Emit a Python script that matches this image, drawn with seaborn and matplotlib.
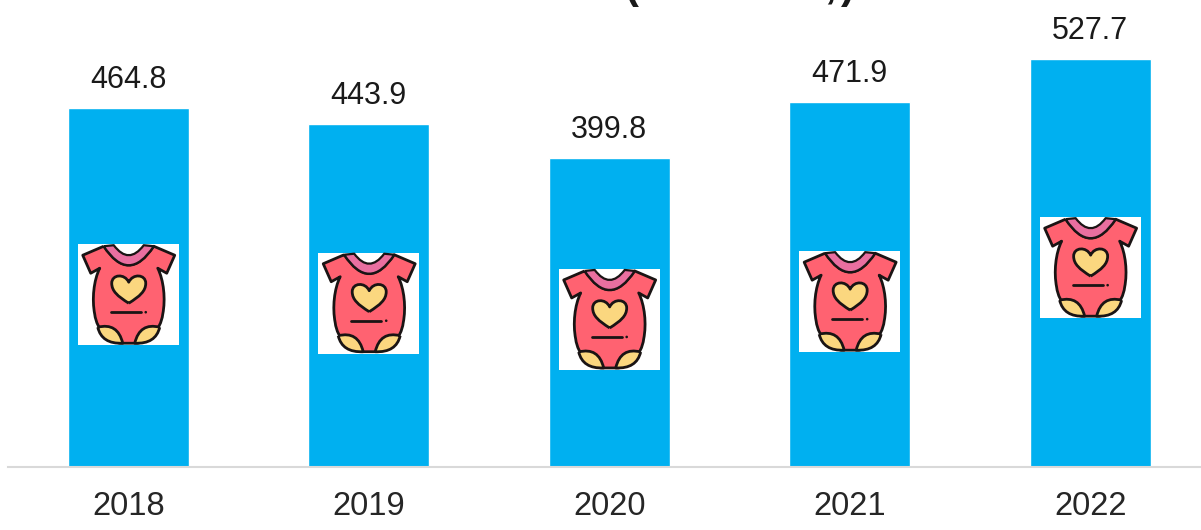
# Balkendiagramm mit Strampler-Icons
import matplotlib
matplotlib.use("Agg")
import matplotlib.pyplot as plt
import pandas as pd
import seaborn as sns
from matplotlib.patches import Circle, PathPatch, Rectangle
from matplotlib.path import Path
from matplotlib.transforms import Affine2D

years = ["2018", "2019", "2020", "2021", "2022"]
values = [464.8, 443.9, 399.8, 471.9, 527.7]
# Mitte der Icons auf der y-Achse
icon_y = [223, 212, 191, 214, 258]

bar_color = "#00B0F0"
body_color = "#FF6271"
collar_color = "#E96FA0"
yellow = "#FBD77F"
outline = "#1A1414"

sns.set_theme(style="white")
plt.rcParams["font.family"] = ["Liberation Sans", "DejaVu Sans"]

df = pd.DataFrame({"Jahr": years, "Wert": values})

fig = plt.figure(figsize=(12.01, 5.30), dpi=100)
ax = fig.add_axes([8 / 1201, (530 - 467) / 530, 1193 / 1201, 467 / 530])
sns.barplot(data=df, x="Jahr", y="Wert", color=bar_color, saturation=1, width=0.503, ax=ax)
ax.set_xlim(-0.5, 4.461)
ax.set_ylim(0, 604.5)
ax.set_xlabel("")
ax.set_ylabel("")
ax.set_yticks([])
ax.tick_params(axis="x", length=0, labelsize=23.5, labelcolor="#262626", pad=17.5)
sns.despine(ax=ax, left=True)
ax.spines["bottom"].set_color("#D9D9D9")
ax.spines["bottom"].set_linewidth(1.5)

for i, v in enumerate(values):
    ax.annotate(f"{v:.1f}", (i, v), xytext=(0, 9.5), textcoords="offset points",
                ha="center", va="bottom", fontsize=22, color="#1A1A1A")


# Icon in einem 101x101-Kasten, y zeigt nach unten
def draw_icon(cx, cy):
    tr = Affine2D().translate(-50.5, -50.5).scale(1, -1).translate(cx, cy)
    lw = 2.0

    def add(p):
        p.set_transform(tr)
        p.set_clip_on(False)
        p.set_zorder(5)
        ax.add_artist(p)

    add(Rectangle((0, 0), 101, 101, fc="white", ec="none"))

    C3, C4, L, M = Path.CURVE3, Path.CURVE4, Path.LINETO, Path.MOVETO
    body = Path(
        [(26, 2), (51, 40), (76, 2), (97, 11), (89, 29), (80, 24),
         (86, 36), (88, 55), (85, 70), (83, 86), (70, 99), (58, 99),
         (44, 99), (32, 99), (19, 86), (17, 70), (14, 55), (16, 36), (22, 24),
         (13, 29), (5, 11), (26, 2)],
        [M, C3, C3, L, L, L, C4, C4, C4, C4, C4, C4, L, C4, C4, C4, C4, C4, C4, L, L, L],
    )
    add(PathPatch(body, fc=body_color, ec=outline, lw=lw, joinstyle="round"))

    collar = Path(
        [(26, 2), (51, 40), (76, 2), (66, 1), (51, 21), (36, 1), (26, 2)],
        [M, C3, C3, L, C3, C3, L],
    )
    add(PathPatch(collar, fc=collar_color, ec=outline, lw=lw * 0.8, joinstyle="round"))

    leg_l = Path([(20, 83), (40, 78), (45, 99), (24, 100), (20, 83)], [M, C3, C3, C3, C3])
    leg_r = Path([(82, 83), (62, 78), (57, 99), (78, 100), (82, 83)], [M, C3, C3, C3, C3])
    add(PathPatch(leg_l, fc=yellow, ec=outline, lw=lw, joinstyle="round"))
    add(PathPatch(leg_r, fc=yellow, ec=outline, lw=lw, joinstyle="round"))

    heart = Path(
        [(51, 59), (40, 52), (34, 47), (34, 39), (34, 30), (47, 29), (51, 38),
         (55, 29), (68, 30), (68, 39), (68, 47), (62, 52), (51, 59)],
        [M] + [C4] * 12,
    )
    add(PathPatch(heart, fc=yellow, ec=outline, lw=lw, joinstyle="round"))

    add(PathPatch(Path([(33, 68), (63, 68)]), fc="none", ec=outline, lw=lw, capstyle="round"))
    add(Circle((68, 68), 1.3, fc=outline, ec="none"))


fig.canvas.draw()
for i, y in enumerate(icon_y):
    px, py = ax.transData.transform((i, y))
    draw_icon(px, py)

# Titel ist im Original oben abgeschnitten, nur Klammern und Komma sichtbar
for txt, xp in [("(", 625), (",", 824), (")", 841)]:
    fig.text(xp / 1201, 1 + 13 / 530, txt, fontsize=30, fontweight="bold",
             ha="left", va="center", color="#1A1A1A")

fig.savefig("out.png", dpi=100)
